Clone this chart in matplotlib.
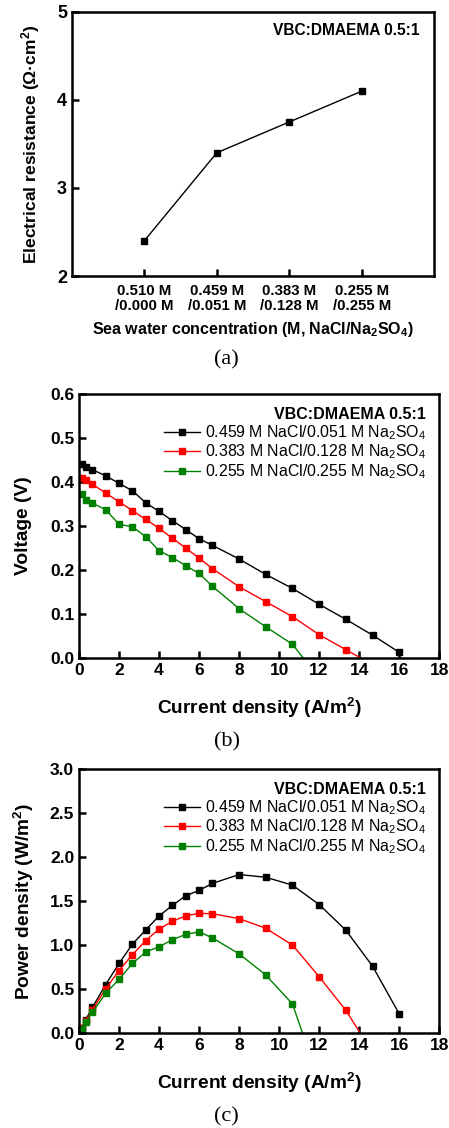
import matplotlib
matplotlib.use("Agg")
import matplotlib.pyplot as plt

plt.rcParams['font.family'] = ['Liberation Sans', 'DejaVu Sans']
plt.rcParams['mathtext.fontset'] = 'custom'
plt.rcParams['mathtext.rm'] = 'Liberation Sans'
plt.rcParams['mathtext.bf'] = 'Liberation Sans:bold'
plt.rcParams['mathtext.it'] = 'Liberation Sans:italic'

# (a) resistance vs sea water composition
conc_labels = ["0.510 M\n/0.000 M", "0.459 M\n/0.051 M", "0.383 M\n/0.128 M", "0.255 M\n/0.255 M"]
resistance = [2.40, 3.40, 3.75, 4.10]

# (b), (c) polarisation data
series_names = ["0.459 M NaCl/0.051 M Na$_2$SO$_4$",
                "0.383 M NaCl/0.128 M Na$_2$SO$_4$",
                "0.255 M NaCl/0.255 M Na$_2$SO$_4$"]
series_colors = ["black", "red", "green"]

current_1 = [0.13, 0.33, 0.67, 1.33, 2.0, 2.67, 3.33, 4.0, 4.67, 5.33, 6.0, 6.67,
             8.0, 9.33, 10.67, 12.0, 13.33, 14.67, 16.0]
voltage_1 = [0.440, 0.435, 0.428, 0.414, 0.397, 0.380, 0.353, 0.333, 0.312, 0.292,
             0.271, 0.256, 0.225, 0.190, 0.158, 0.122, 0.088, 0.052, 0.013]
power_1 = [0.06, 0.15, 0.29, 0.55, 0.79, 1.01, 1.17, 1.33, 1.45, 1.56, 1.62, 1.70,
           1.80, 1.77, 1.68, 1.46, 1.17, 0.76, 0.22]

current_2 = [0.13, 0.33, 0.67, 1.33, 2.0, 2.67, 3.33, 4.0, 4.67, 5.33, 6.0, 6.67,
             8.0, 9.33, 10.67, 12.0, 13.33, 14.67]
voltage_2 = [0.410, 0.405, 0.395, 0.375, 0.355, 0.335, 0.315, 0.295, 0.272, 0.250,
             0.227, 0.203, 0.162, 0.128, 0.094, 0.053, 0.019, -0.015]
power_2 = [0.055, 0.135, 0.265, 0.50, 0.71, 0.89, 1.05, 1.18, 1.27, 1.33, 1.36, 1.355,
           1.30, 1.19, 1.00, 0.64, 0.26, -0.22]

current_3 = [0.13, 0.33, 0.67, 1.33, 2.0, 2.67, 3.33, 4.0, 4.67, 5.33, 6.0, 6.67,
             8.0, 9.33, 10.67, 12.0]
voltage_3 = [0.372, 0.360, 0.352, 0.337, 0.304, 0.298, 0.276, 0.244, 0.228, 0.210,
             0.192, 0.163, 0.112, 0.071, 0.031, -0.046]
power_3 = [0.05, 0.12, 0.235, 0.45, 0.61, 0.79, 0.92, 0.98, 1.06, 1.12, 1.15, 1.08,
           0.90, 0.66, 0.33, -0.55]

currents = [current_1, current_2, current_3]
voltages = [voltage_1, voltage_2, voltage_3]
powers = [power_1, power_2, power_3]


def style_axes(ax, size=12.5):
    for spine in ax.spines.values():
        spine.set_linewidth(1.8)
    ax.tick_params(direction='in', length=5, width=1.8, labelsize=size,
                   top=False, right=False)
    for lab in ax.get_xticklabels() + ax.get_yticklabels():
        lab.set_fontweight('bold')


fig = plt.figure(figsize=(4.49, 11.28), dpi=100)

# panel a
ax0 = fig.add_axes([0.160, 0.7553, 0.807, 0.2341])
ax0.plot(range(1, 5), resistance, color='black', lw=1, marker='s', ms=4.5)
ax0.set_xlim(0, 5)
ax0.set_ylim(2, 5)
ax0.set_yticks([2, 3, 4, 5])
ax0.set_xticks(range(1, 5))
ax0.set_xticklabels(conc_labels)
style_axes(ax0, 13)
ax0.tick_params(axis='x', labelsize=10.8, pad=6)
for lab in ax0.get_xticklabels():
    lab.set_fontweight('bold')
    lab.set_linespacing(1.05)
ax0.set_xlabel("Sea water concentration (M, NaCl/Na$_\\mathbf{2}$SO$_\\mathbf{4}$)",
               fontsize=11.5, fontweight='bold', labelpad=5)
ax0.set_ylabel("Electrical resistance (\u03a9\u00b7cm$^\\mathbf{2}$)",
               fontsize=12.6, fontweight='bold', labelpad=11)
ax0.text(0.96, 0.93, "VBC:DMAEMA 0.5:1", transform=ax0.transAxes, ha='right',
         va='center', fontsize=11.2, fontweight='bold')

# panels b and c
ax1 = fig.add_axes([0.176, 0.4167, 0.802, 0.2340])
ax2 = fig.add_axes([0.176, 0.0842, 0.802, 0.2341])

for ax, ydata, ylim, yticks, ylabel, ypad in [
        (ax1, voltages, (0, 0.6), [0.0, 0.1, 0.2, 0.3, 0.4, 0.5, 0.6], "Voltage (V)", 13),
        (ax2, powers, (0, 3.0), [0.0, 0.5, 1.0, 1.5, 2.0, 2.5, 3.0],
         "Power density (W/m$^\\mathbf{2}$)", 10)]:
    for x, y, name, c in zip(currents, ydata, series_names, series_colors):
        ax.plot(x, y, color=c, lw=1, marker='s', ms=4, label=name)
    ax.set_xlim(0, 18)
    ax.set_ylim(*ylim)
    ax.set_xticks(range(0, 19, 2))
    ax.set_yticks(yticks)
    ax.set_yticklabels(["%.1f" % v for v in yticks])
    style_axes(ax)
    ax.set_xlabel("Current density (A/m$^\\mathbf{2}$)", fontsize=13.8,
                  fontweight='bold', labelpad=13)
    ax.set_ylabel(ylabel, fontsize=13.8, fontweight='bold', labelpad=ypad)
    ax.legend(title="VBC:DMAEMA 0.5:1", title_fontproperties={'weight': 'bold', 'size': 11.5},
              alignment='right', loc='upper right', bbox_to_anchor=(0.99, 0.985),
              frameon=False, fontsize=11.4, handlelength=2.3, handletextpad=0.3,
              labelspacing=0.05, borderaxespad=0.3, borderpad=0.3)

fig.text(0.505, 0.681, "(a)", ha='center', va='center', fontsize=16,
         family='Liberation Serif')
fig.text(0.505, 0.342, "(b)", ha='center', va='center', fontsize=16,
         family='Liberation Serif')
fig.text(0.505, 0.0098, "(c)", ha='center', va='center', fontsize=16,
         family='Liberation Serif')

fig.savefig("out.png", dpi=100)
